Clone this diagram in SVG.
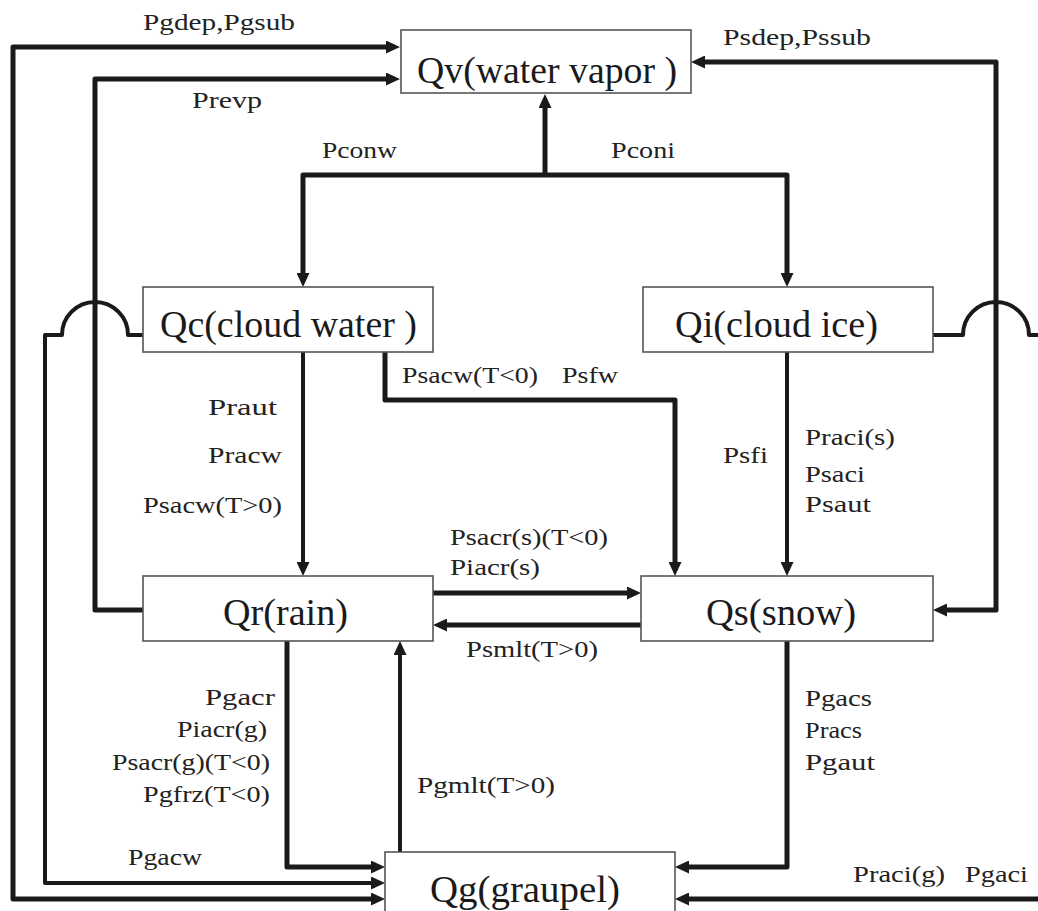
<svg xmlns="http://www.w3.org/2000/svg" width="1038" height="911" viewBox="0 0 1038 911">
<defs>
<marker id="ah" markerUnits="userSpaceOnUse" markerWidth="15" markerHeight="13" refX="4" refY="6.5" orient="auto-start-reverse" viewBox="0 0 15 13">
<path d="M0,0 L14,6.5 L0,13 z" fill="#1a1a1a"/>
</marker>
</defs>
<style>
.box{fill:#fff;stroke:#555;stroke-width:1.6}
.nt{font-family:"Liberation Serif","Times New Roman",serif;font-size:38px;fill:#1a1a1a}
.lb{font-family:"Liberation Serif","Times New Roman",serif;font-size:23px;fill:#222}
.c{fill:none;stroke:#1a1a1a;stroke-width:5;stroke-linejoin:round}
.m{fill:none;stroke:#1a1a1a;stroke-width:4;stroke-linejoin:round}
.a{marker-end:url(#ah)}
.b{marker-start:url(#ah);marker-end:url(#ah)}
</style>
<rect width="1038" height="911" fill="#fff"/>
<g id="connectors">
<path class="c b" d="M375,899 L13,899 L13,47 L390,47"/>
<path class="c a" d="M143,610 L95,610 L95,79 L390,79"/>
<path class="c b" d="M701,62 L996,62 L996,610 L943,610"/>
<path class="c a" d="M545,175 L545,104"/>
<path class="c b" d="M303,277 L303,175 L787,175 L787,277"/>
<path class="m a" d="M303,352 L303,566"/>
<path class="c a" d="M385,352 L385,400 L675,400 L675,566"/>
<path class="m a" d="M787,352 L787,566"/>
<path class="c a" d="M433,593 L631,593"/>
<path class="c a" d="M641,625 L443,625"/>
<path class="c a" d="M287,641 L287,867 L375,867"/>
<path class="m a" d="M400,852 L400,651"/>
<path class="c a" d="M787,641 L787,867 L685,867"/>
<path class="c a" d="M1038,899 L685,899"/>
<path class="m a" d="M143,335 L128,335 A33,33 0 0 0 62,335 L45,335 L45,883 L375,883"/>
<path class="m" d="M933,335 L963,335 A33,33 0 0 1 1029,335 L1040,335"/>
</g>
<g id="Qv"><rect class="box" x="401" y="30" width="290" height="63"/><text class="nt" x="417" y="83" textLength="260" lengthAdjust="spacingAndGlyphs">Qv(water vapor )</text></g>
<g id="Qc"><rect class="box" x="143" y="287" width="290" height="65"/><text class="nt" x="160" y="337" textLength="257" lengthAdjust="spacingAndGlyphs">Qc(cloud water )</text></g>
<g id="Qi"><rect class="box" x="643" y="287" width="290" height="65"/><text class="nt" x="675" y="337" textLength="203" lengthAdjust="spacingAndGlyphs">Qi(cloud ice)</text></g>
<g id="Qr"><rect class="box" x="143" y="576" width="290" height="65"/><text class="nt" x="223" y="625" textLength="125" lengthAdjust="spacingAndGlyphs">Qr(rain)</text></g>
<g id="Qs"><rect class="box" x="641" y="576" width="292" height="65"/><text class="nt" x="706" y="625" textLength="150" lengthAdjust="spacingAndGlyphs">Qs(snow)</text></g>
<g id="Qg"><rect class="box" x="385" y="852" width="290" height="80"/><text class="nt" x="430" y="902" textLength="190" lengthAdjust="spacingAndGlyphs">Qg(graupel)</text></g>
<g id="labels">
<text class="lb" x="143" y="30" textLength="152" lengthAdjust="spacingAndGlyphs">Pgdep,Pgsub</text>
<text class="lb" x="192" y="108" textLength="70" lengthAdjust="spacingAndGlyphs">Prevp</text>
<text class="lb" x="322" y="158" textLength="75" lengthAdjust="spacingAndGlyphs">Pconw</text>
<text class="lb" x="611" y="158" textLength="64" lengthAdjust="spacingAndGlyphs">Pconi</text>
<text class="lb" x="723" y="45" textLength="148" lengthAdjust="spacingAndGlyphs">Psdep,Pssub</text>
<text class="lb" x="402" y="383" textLength="136" lengthAdjust="spacingAndGlyphs">Psacw(T&lt;0)</text>
<text class="lb" x="562" y="383" textLength="56" lengthAdjust="spacingAndGlyphs">Psfw</text>
<text class="lb" x="208" y="415" textLength="69" lengthAdjust="spacingAndGlyphs">Praut</text>
<text class="lb" x="208" y="463" textLength="74" lengthAdjust="spacingAndGlyphs">Pracw</text>
<text class="lb" x="143" y="513" textLength="139" lengthAdjust="spacingAndGlyphs">Psacw(T&gt;0)</text>
<text class="lb" x="723" y="463" textLength="45" lengthAdjust="spacingAndGlyphs">Psfi</text>
<text class="lb" x="805" y="445" textLength="90" lengthAdjust="spacingAndGlyphs">Praci(s)</text>
<text class="lb" x="805" y="482" textLength="60" lengthAdjust="spacingAndGlyphs">Psaci</text>
<text class="lb" x="805" y="512" textLength="66" lengthAdjust="spacingAndGlyphs">Psaut</text>
<text class="lb" x="450" y="545" textLength="158" lengthAdjust="spacingAndGlyphs">Psacr(s)(T&lt;0)</text>
<text class="lb" x="450" y="575" textLength="90" lengthAdjust="spacingAndGlyphs">Piacr(s)</text>
<text class="lb" x="466" y="657" textLength="132" lengthAdjust="spacingAndGlyphs">Psmlt(T&gt;0)</text>
<text class="lb" x="205" y="705" textLength="70" lengthAdjust="spacingAndGlyphs">Pgacr</text>
<text class="lb" x="177" y="737" textLength="90" lengthAdjust="spacingAndGlyphs">Piacr(g)</text>
<text class="lb" x="112" y="770" textLength="158" lengthAdjust="spacingAndGlyphs">Psacr(g)(T&lt;0)</text>
<text class="lb" x="143" y="802" textLength="127" lengthAdjust="spacingAndGlyphs">Pgfrz(T&lt;0)</text>
<text class="lb" x="417" y="793" textLength="138" lengthAdjust="spacingAndGlyphs">Pgmlt(T&gt;0)</text>
<text class="lb" x="128" y="865" textLength="74" lengthAdjust="spacingAndGlyphs">Pgacw</text>
<text class="lb" x="805" y="706" textLength="67" lengthAdjust="spacingAndGlyphs">Pgacs</text>
<text class="lb" x="805" y="738" textLength="57" lengthAdjust="spacingAndGlyphs">Pracs</text>
<text class="lb" x="805" y="770" textLength="70" lengthAdjust="spacingAndGlyphs">Pgaut</text>
<text class="lb" x="853" y="882" textLength="92" lengthAdjust="spacingAndGlyphs">Praci(g)</text>
<text class="lb" x="965" y="882" textLength="63" lengthAdjust="spacingAndGlyphs">Pgaci</text>
</g>
</svg>
